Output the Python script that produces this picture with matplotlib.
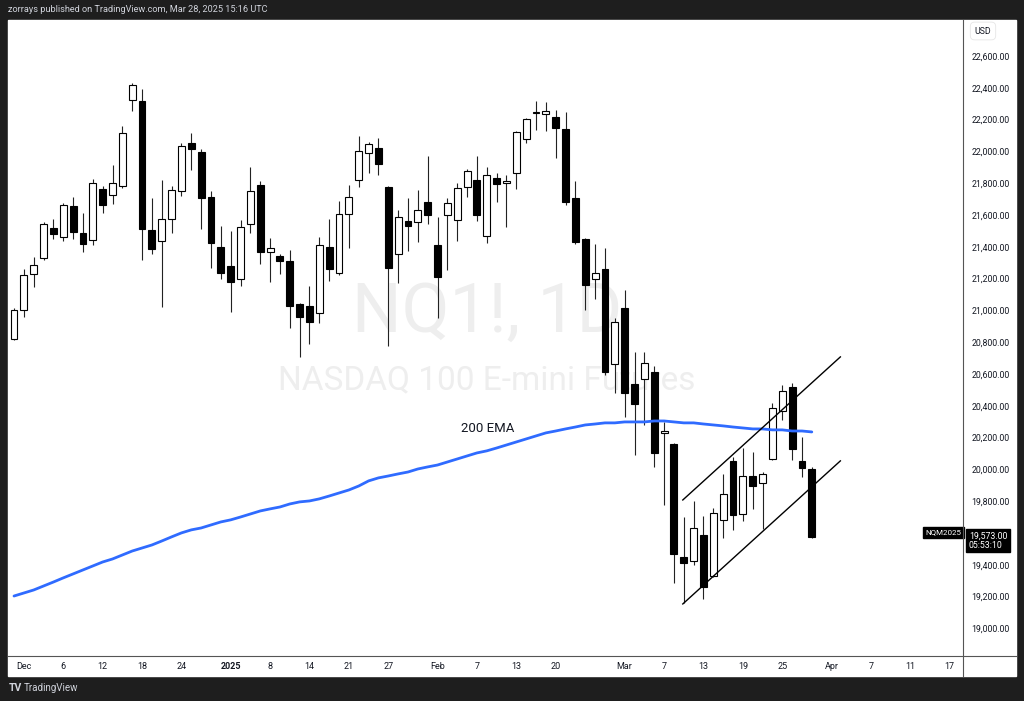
import numpy as np
import matplotlib.pyplot as plt
from matplotlib.patches import Rectangle
from matplotlib.lines import Line2D
from matplotlib.transforms import blended_transform_factory

# NQ1! daily bars (trading days only)
dates = ["2024-11-29", "2024-12-02", "2024-12-03", "2024-12-04", "2024-12-05", "2024-12-06",
         "2024-12-09", "2024-12-10", "2024-12-11", "2024-12-12", "2024-12-13", "2024-12-16",
         "2024-12-17", "2024-12-18", "2024-12-19", "2024-12-20", "2024-12-23", "2024-12-24",
         "2024-12-26", "2024-12-27", "2024-12-30", "2024-12-31", "2025-01-02", "2025-01-03",
         "2025-01-06", "2025-01-07", "2025-01-08", "2025-01-09", "2025-01-10", "2025-01-13",
         "2025-01-14", "2025-01-15", "2025-01-16", "2025-01-17", "2025-01-21", "2025-01-22",
         "2025-01-23", "2025-01-24", "2025-01-27", "2025-01-28", "2025-01-29", "2025-01-30",
         "2025-01-31", "2025-02-03", "2025-02-04", "2025-02-05", "2025-02-06", "2025-02-07",
         "2025-02-10", "2025-02-11", "2025-02-12", "2025-02-13", "2025-02-14", "2025-02-18",
         "2025-02-19", "2025-02-20", "2025-02-21", "2025-02-24", "2025-02-25", "2025-02-26",
         "2025-02-27", "2025-02-28", "2025-03-03", "2025-03-04", "2025-03-05", "2025-03-06",
         "2025-03-07", "2025-03-10", "2025-03-11", "2025-03-12", "2025-03-13", "2025-03-14",
         "2025-03-17", "2025-03-18", "2025-03-19", "2025-03-20", "2025-03-21", "2025-03-24",
         "2025-03-25", "2025-03-26", "2025-03-27", "2025-03-28"]
# empty sessions to the right of the last bar
future_dates = ["2025-03-31", "2025-04-01", "2025-04-02", "2025-04-03", "2025-04-04",
                "2025-04-07", "2025-04-08", "2025-04-09", "2025-04-10", "2025-04-11",
                "2025-04-14", "2025-04-15", "2025-04-16", "2025-04-17"]

opens = [20820, 21002, 21229, 21329, 21518, 21462, 21657, 21487, 21443, 21763,
         21726, 21782, 22323, 22317, 21506, 21436, 21575, 21751, 22053, 21996,
         21713, 21399, 21279, 21197, 21543, 21789, 21367, 21342, 21311, 21040,
         21027, 20983, 21399, 21235, 21606, 21820, 21990, 22021, 21776, 21355,
         21562, 21556, 21682, 21411, 21600, 21568, 21776, 21820, 21468, 21833,
         21801, 21864, 22078, 22241, 22235, 22216, 22141, 21707, 21449, 21197,
         21260, 20663, 21015, 20537, 20568, 20612, 20229, 20160, 19449, 19424,
         19587, 19329, 19682, 20053, 19719, 19958, 19914, 20065, 20367, 20518,
         20053, 20002]
highs = [21015, 21260, 21336, 21556, 21575, 21675, 21713, 21612, 21826, 21782,
         21914, 22160, 22430, 22392, 21707, 21820, 21782, 22053, 22116, 22015,
         21751, 21531, 21499, 21568, 21902, 21814, 21455, 21355, 21380, 21046,
         21153, 21462, 21575, 21688, 21789, 22097, 22059, 22084, 21782, 21631,
         21707, 21757, 21971, 21587, 21707, 21801, 21889, 21971, 21902, 21864,
         21851, 22128, 22210, 22317, 22311, 22260, 22248, 21814, 21455, 21417,
         21392, 20952, 21128, 20738, 20738, 20650, 20298, 20166, 19700, 19801,
         19707, 19757, 19971, 20078, 20134, 20109, 19983, 20417, 20531, 20543,
         20204, 20015]
lows = [20814, 20958, 21147, 21317, 21449, 21436, 21449, 21367, 21411, 21612,
        21669, 21770, 22254, 21317, 21355, 21021, 21487, 21719, 21883, 21512,
        21267, 21197, 20990, 21153, 21487, 21292, 21178, 21229, 20889, 20707,
        20789, 20921, 21185, 21223, 21392, 21776, 21864, 21851, 20776, 21172,
        21373, 21430, 21543, 20952, 21254, 21436, 21713, 21562, 21424, 21682,
        21524, 21763, 22053, 22135, 22128, 21958, 21663, 21417, 21002, 21072,
        20594, 20480, 20329, 20090, 20279, 20015, 19776, 19285, 19159, 19399,
        19185, 19323, 19568, 19619, 19675, 19751, 19625, 20059, 20310, 20059,
        19952, 19568]
closes = [21002, 21223, 21285, 21543, 21480, 21663, 21493, 21417, 21801, 21663,
          21801, 22116, 22418, 21512, 21386, 21575, 21757, 22034, 22015, 21707,
          21424, 21235, 21178, 21524, 21751, 21367, 21392, 21311, 21027, 20958,
          20927, 21411, 21260, 21606, 21713, 22002, 22046, 21921, 21267, 21587,
          21531, 21631, 21600, 21210, 21675, 21770, 21877, 21600, 21851, 21795,
          21814, 22122, 22204, 22248, 22254, 22147, 21682, 21430, 21160, 21235,
          20612, 20927, 20480, 20411, 20669, 20103, 20241, 19468, 19411, 19631,
          19260, 19726, 19845, 19713, 19958, 19895, 19971, 20386, 20493, 20128,
          20009, 19573]
ema200 = [19203, 19222, 19241, 19266, 19291, 19317, 19342, 19367, 19392, 19417,
          19436, 19461, 19486, 19505, 19524, 19549, 19575, 19600, 19619, 19631,
          19650, 19669, 19682, 19700, 19719, 19738, 19751, 19763, 19782, 19795,
          19801, 19814, 19832, 19851, 19870, 19895, 19927, 19946, 19958, 19971,
          19983, 20002, 20015, 20027, 20046, 20065, 20084, 20103, 20116, 20134,
          20153, 20172, 20191, 20210, 20229, 20241, 20254, 20266, 20279, 20285,
          20292, 20292, 20298, 20298, 20298, 20304, 20304, 20298, 20292, 20292,
          20285, 20279, 20273, 20266, 20260, 20254, 20254, 20248, 20248, 20241,
          20241, 20235]

# drawn channel (bar position, price)
channel_x = [67.9, 83.9]
channel_upper = [19807, 20707]
channel_lower = [19153, 20053]

tick_dates = ["2024-12-02", "2024-12-06", "2024-12-12", "2024-12-18", "2024-12-24",
              "2025-01-02", "2025-01-08", "2025-01-14", "2025-01-21", "2025-01-27",
              "2025-02-03", "2025-02-07", "2025-02-13", "2025-02-20", "2025-03-03",
              "2025-03-07", "2025-03-13", "2025-03-19", "2025-03-25", "2025-04-01",
              "2025-04-07", "2025-04-11", "2025-04-17"]
tick_labels = ["Dec", "6", "12", "18", "24", "2025", "8", "14", "21", "27", "Feb", "7",
               "13", "20", "Mar", "7", "13", "19", "25", "Apr", "7", "11", "17"]
price_ticks = list(range(19000, 22601, 200))

plt.rcParams['font.family'] = ['Roboto', 'DejaVu Sans']

W, H = 1024, 701
fig = plt.figure(figsize=(W / 100, H / 100), dpi=100, facecolor='#1e1e1e')

# white chart panel
fig.add_artist(Rectangle((8 / W, 1 - 676 / H), 1008 / W, 656 / H,
                         transform=fig.transFigure, color='white', zorder=0))

ax = fig.add_axes([8 / W, 1 - 655 / H, 955 / W, 635 / H])
ax.set_facecolor('white')

x = np.arange(len(dates))
all_dates = dates + future_dates

# candles
body_w = 0.7
for i in x:
    o, h, l, c = opens[i], highs[i], lows[i], closes[i]
    up = c >= o
    ax.vlines(i, l, h, color='#222222', lw=0.8, zorder=2)
    bot = min(o, c)
    hgt = max(abs(c - o), 6)
    ax.bar(i, hgt, bottom=bot, width=body_w, color='white' if up else 'black',
           edgecolor='black', linewidth=0.8, zorder=3)

# 200 EMA
ax.plot(x, ema200, color='#2f6bff', lw=2.0, zorder=4, solid_capstyle='round')
ax.text(48.1, 20255, '200 EMA', fontsize=9.5, color='#131722', ha='center', va='center')

# channel
ax.plot(channel_x, channel_upper, color='black', lw=1.0, zorder=5)
ax.plot(channel_x, channel_lower, color='black', lw=1.0, zorder=5)

# watermark
ax.text(0.5016, 0.5386, 'NQ1!, 1D', transform=ax.transAxes, fontsize=50,
        color='#eeeeee', ha='center', va='center', zorder=0.5)
ax.text(0.5016, 0.433, 'NASDAQ 100 E-mini Futures', transform=ax.transAxes, fontsize=24,
        color='#eeeeee', ha='center', va='center', zorder=0.5)

ax.set_xlim(-0.61, 96.35)
ax.set_ylim(18832, 22826)

# time axis
ax.set_xticks([all_dates.index(d) for d in tick_dates])
ax.set_xticklabels(tick_labels)
ax.tick_params(axis='x', length=0, pad=5, labelsize=6.5, labelcolor='#131722')
for lab in ax.get_xticklabels():
    if lab.get_text() == '2025':
        lab.set_fontweight('bold')

# price axis
ax.yaxis.tick_right()
ax.set_yticks(price_ticks)
ax.set_yticklabels(['{:,.2f}'.format(p) for p in price_ticks])
ax.tick_params(axis='y', length=0, pad=6, labelsize=6.3, labelcolor='#131722')

for s in ax.spines.values():
    s.set_visible(False)

# panel separators
fig.add_artist(Line2D([963 / W, 963 / W], [1 - 676 / H, 1 - 20 / H], color='#555555', lw=0.8))
fig.add_artist(Line2D([8 / W, 1016 / W], [1 - 655.5 / H, 1 - 655.5 / H], color='#555555', lw=0.8))

# last price labels
tr = blended_transform_factory(ax.transAxes, ax.transData)
ax.text(0.998, closes[-1] + 30, 'NQM2025', transform=tr, fontsize=5.8, color='white',
        ha='right', va='center', clip_on=False, zorder=10,
        bbox=dict(boxstyle='square,pad=0.3', fc='black', ec='black'))
ax.text(1.006, closes[-1] - 20, '{:,.2f}\n05:53:10'.format(closes[-1]), transform=tr,
        fontsize=6.3, color='white', ha='left', va='center', clip_on=False, zorder=10,
        linespacing=1.05, bbox=dict(boxstyle='square,pad=0.3', fc='black', ec='black'))

fig.text(983 / W, 1 - 31 / H, 'USD', fontsize=6.3, color='#131722', ha='center', va='center',
         bbox=dict(boxstyle='round,pad=0.5', fc='white', ec='#e6e6e6', lw=0.6))

# header / footer
fig.text(8 / W, 1 - 10 / H, 'zorrays published on TradingView.com, Mar 28, 2025 15:16 UTC',
         fontsize=6.6, color='#d1d4dc', va='center')
fig.text(9 / W, 1 - 688 / H, 'TV', fontsize=7.5, fontweight='bold', color='#d1d4dc', va='center')
fig.text(24 / W, 1 - 688 / H, 'TradingView', fontsize=7, color='#d1d4dc', va='center')

fig.savefig('out.png', dpi=100, facecolor=fig.get_facecolor())
